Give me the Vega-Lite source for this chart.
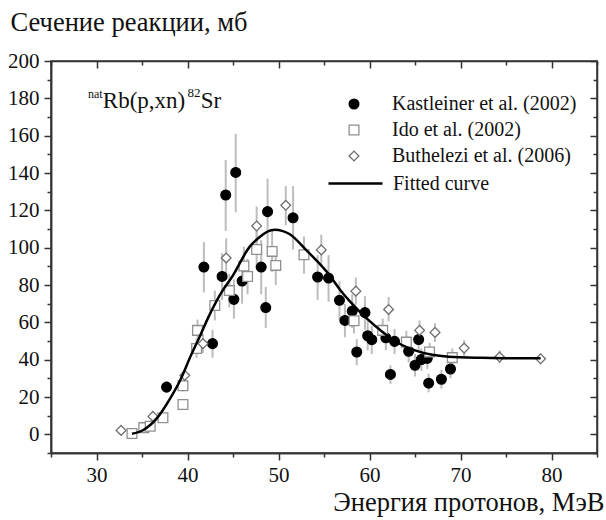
{
  "$schema": "https://vega.github.io/schema/vega-lite/v6.json",
  "width": 546,
  "height": 392,
  "autosize": "none",
  "padding": {"left": 51, "top": 61, "right": 9, "bottom": 67},
  "background": "white",
  "config": {
    "font": "Liberation Serif",
    "view": {"stroke": "#333333", "strokeWidth": 1.5},
    "text": {"font": "Liberation Serif"},
    "axis": {
      "grid": false,
      "domainColor": "#333333",
      "domainWidth": 1.5,
      "tickColor": "#333333",
      "tickWidth": 1.5,
      "labelFont": "Liberation Serif",
      "labelFontSize": 21,
      "labelColor": "#111111",
      "titleFont": "Liberation Serif",
      "titleFontWeight": "normal",
      "titleColor": "#111111"
    },
    "legend": {"labelFont": "Liberation Serif", "labelColor": "#111111", "labelLimit": 400}
  },
  "datasets": {
    "pts": [
      {"src": "Kastleiner et al. (2002)", "x": 37.7, "y": 25.3, "lo": 22.5, "hi": 28.5},
      {"src": "Kastleiner et al. (2002)", "x": 41.8, "y": 89.6, "lo": 76, "hi": 103},
      {"src": "Kastleiner et al. (2002)", "x": 42.75, "y": 48.6, "lo": 41, "hi": 56},
      {"src": "Kastleiner et al. (2002)", "x": 43.8, "y": 84.6, "lo": 72, "hi": 97},
      {"src": "Kastleiner et al. (2002)", "x": 44.2, "y": 128.2, "lo": 109, "hi": 147},
      {"src": "Kastleiner et al. (2002)", "x": 45.1, "y": 72.3, "lo": 62, "hi": 83},
      {"src": "Kastleiner et al. (2002)", "x": 45.3, "y": 140.3, "lo": 119, "hi": 161},
      {"src": "Kastleiner et al. (2002)", "x": 46.0, "y": 82.1, "lo": 70, "hi": 94},
      {"src": "Kastleiner et al. (2002)", "x": 48.1, "y": 89.6, "lo": 75, "hi": 104},
      {"src": "Kastleiner et al. (2002)", "x": 48.6, "y": 67.9, "lo": 57, "hi": 79},
      {"src": "Kastleiner et al. (2002)", "x": 48.8, "y": 119.3, "lo": 100, "hi": 137},
      {"src": "Kastleiner et al. (2002)", "x": 51.6, "y": 116, "lo": 99, "hi": 133},
      {"src": "Kastleiner et al. (2002)", "x": 54.3, "y": 84.3, "lo": 72, "hi": 96},
      {"src": "Kastleiner et al. (2002)", "x": 55.5, "y": 83.7, "lo": 71, "hi": 96},
      {"src": "Kastleiner et al. (2002)", "x": 56.7, "y": 71.8, "lo": 61, "hi": 82},
      {"src": "Kastleiner et al. (2002)", "x": 57.3, "y": 61, "lo": 52, "hi": 70},
      {"src": "Kastleiner et al. (2002)", "x": 58.1, "y": 66, "lo": 57, "hi": 75},
      {"src": "Kastleiner et al. (2002)", "x": 58.6, "y": 44.1, "lo": 37, "hi": 51},
      {"src": "Kastleiner et al. (2002)", "x": 59.5, "y": 65.2, "lo": 56, "hi": 74},
      {"src": "Kastleiner et al. (2002)", "x": 59.8, "y": 52.8, "lo": 45, "hi": 61},
      {"src": "Kastleiner et al. (2002)", "x": 60.25, "y": 50.7, "lo": 43, "hi": 58},
      {"src": "Kastleiner et al. (2002)", "x": 61.8, "y": 51.7, "lo": 45, "hi": 58.5},
      {"src": "Kastleiner et al. (2002)", "x": 62.3, "y": 32.1, "lo": 27, "hi": 37},
      {"src": "Kastleiner et al. (2002)", "x": 62.75, "y": 49.8, "lo": 43, "hi": 56.5},
      {"src": "Kastleiner et al. (2002)", "x": 64.3, "y": 44.5, "lo": 38.5, "hi": 50.5},
      {"src": "Kastleiner et al. (2002)", "x": 65.0, "y": 37, "lo": 31, "hi": 43},
      {"src": "Kastleiner et al. (2002)", "x": 65.4, "y": 50.8, "lo": 45, "hi": 57},
      {"src": "Kastleiner et al. (2002)", "x": 65.7, "y": 40.1, "lo": 34, "hi": 46},
      {"src": "Kastleiner et al. (2002)", "x": 66.35, "y": 40.7, "lo": 35, "hi": 46.5},
      {"src": "Kastleiner et al. (2002)", "x": 66.5, "y": 27.4, "lo": 22.5, "hi": 32.5},
      {"src": "Kastleiner et al. (2002)", "x": 67.9, "y": 29.5, "lo": 24.5, "hi": 34.5},
      {"src": "Kastleiner et al. (2002)", "x": 68.9, "y": 35, "lo": 30, "hi": 40},
      {"src": "Ido et al. (2002)", "x": 33.9, "y": 0.4, "lo": -0.5, "hi": 1.3},
      {"src": "Ido et al. (2002)", "x": 35.2, "y": 3.6, "lo": 2.6, "hi": 4.6},
      {"src": "Ido et al. (2002)", "x": 35.9, "y": 4.3, "lo": 3, "hi": 5.6},
      {"src": "Ido et al. (2002)", "x": 37.3, "y": 8.9, "lo": 7, "hi": 10.8},
      {"src": "Ido et al. (2002)", "x": 39.5, "y": 16, "lo": 14, "hi": 18},
      {"src": "Ido et al. (2002)", "x": 39.5, "y": 26, "lo": 23, "hi": 29},
      {"src": "Ido et al. (2002)", "x": 41.0, "y": 46, "lo": 41, "hi": 51},
      {"src": "Ido et al. (2002)", "x": 41.1, "y": 55.7, "lo": 50, "hi": 61.5},
      {"src": "Ido et al. (2002)", "x": 43.0, "y": 69, "lo": 61, "hi": 77},
      {"src": "Ido et al. (2002)", "x": 44.6, "y": 77, "lo": 68, "hi": 86},
      {"src": "Ido et al. (2002)", "x": 46.2, "y": 90.2, "lo": 80, "hi": 100.5},
      {"src": "Ido et al. (2002)", "x": 46.6, "y": 84.6, "lo": 75, "hi": 94},
      {"src": "Ido et al. (2002)", "x": 47.6, "y": 99, "lo": 88, "hi": 110},
      {"src": "Ido et al. (2002)", "x": 49.3, "y": 98, "lo": 87, "hi": 109},
      {"src": "Ido et al. (2002)", "x": 49.7, "y": 90.5, "lo": 80, "hi": 101},
      {"src": "Ido et al. (2002)", "x": 52.8, "y": 96.2, "lo": 86, "hi": 106},
      {"src": "Ido et al. (2002)", "x": 58.3, "y": 60.8, "lo": 54, "hi": 67.5},
      {"src": "Ido et al. (2002)", "x": 61.45, "y": 55.7, "lo": 49.5, "hi": 62},
      {"src": "Ido et al. (2002)", "x": 64.05, "y": 49.4, "lo": 43.5, "hi": 55.5},
      {"src": "Ido et al. (2002)", "x": 66.6, "y": 44.1, "lo": 39, "hi": 49},
      {"src": "Ido et al. (2002)", "x": 69.1, "y": 41.1, "lo": 36, "hi": 46},
      {"src": "Buthelezi et al. (2006)", "x": 32.7, "y": 2.1, "lo": 1.2, "hi": 3},
      {"src": "Buthelezi et al. (2006)", "x": 36.2, "y": 9.6, "lo": 8.3, "hi": 10.9},
      {"src": "Buthelezi et al. (2006)", "x": 39.7, "y": 31.6, "lo": 28.6, "hi": 34.6},
      {"src": "Buthelezi et al. (2006)", "x": 41.7, "y": 48.6, "lo": 43.6, "hi": 53.6},
      {"src": "Buthelezi et al. (2006)", "x": 44.25, "y": 94.5, "lo": 84, "hi": 105},
      {"src": "Buthelezi et al. (2006)", "x": 47.6, "y": 111.6, "lo": 101.5, "hi": 122},
      {"src": "Buthelezi et al. (2006)", "x": 50.8, "y": 122.7, "lo": 112, "hi": 133},
      {"src": "Buthelezi et al. (2006)", "x": 54.7, "y": 98.8, "lo": 90.5, "hi": 107},
      {"src": "Buthelezi et al. (2006)", "x": 58.5, "y": 76.7, "lo": 69.5, "hi": 84},
      {"src": "Buthelezi et al. (2006)", "x": 62.1, "y": 66.9, "lo": 60.5, "hi": 73.5},
      {"src": "Buthelezi et al. (2006)", "x": 65.5, "y": 55.7, "lo": 50.5, "hi": 61},
      {"src": "Buthelezi et al. (2006)", "x": 67.2, "y": 54.6, "lo": 49.5, "hi": 59.5},
      {"src": "Buthelezi et al. (2006)", "x": 70.4, "y": 46.2, "lo": 42, "hi": 50.5},
      {"src": "Buthelezi et al. (2006)", "x": 74.3, "y": 41.4, "lo": 38, "hi": 45},
      {"src": "Buthelezi et al. (2006)", "x": 78.8, "y": 40.5, "lo": 37.5, "hi": 43.5}
    ],
    "curve": [
      {"x": 33.9, "y": 0.3},
      {"x": 35.1, "y": 2.2},
      {"x": 36.6, "y": 8.4},
      {"x": 38.1, "y": 19.3},
      {"x": 39.2, "y": 29},
      {"x": 40.3, "y": 41.4},
      {"x": 41.4, "y": 53},
      {"x": 42.3, "y": 62.8},
      {"x": 43.6, "y": 75},
      {"x": 45.0, "y": 85.2},
      {"x": 46.8, "y": 100.3},
      {"x": 48.0, "y": 106},
      {"x": 48.7, "y": 108.4},
      {"x": 49.6, "y": 109.6},
      {"x": 50.4, "y": 109},
      {"x": 51.2, "y": 107.3},
      {"x": 53.0, "y": 99},
      {"x": 54.0, "y": 94},
      {"x": 55.4, "y": 86.5},
      {"x": 57.0, "y": 76},
      {"x": 57.8, "y": 71.5},
      {"x": 59.6, "y": 62.5},
      {"x": 61.4, "y": 55},
      {"x": 63.2, "y": 48.8},
      {"x": 65.0, "y": 45},
      {"x": 66.9, "y": 42.6},
      {"x": 68.7, "y": 41.6},
      {"x": 72.3, "y": 41.0},
      {"x": 75.5, "y": 40.8},
      {"x": 78.8, "y": 40.7}
    ],
    "one": [{}]
  },
  "resolve": {"axis": {"x": "independent", "y": "independent"}},
  "layer": [
    {
      "data": {"name": "pts"},
      "mark": {"type": "rule", "color": "#bdbdbd", "strokeWidth": 2},
      "encoding": {
        "x": {"field": "x", "type": "quantitative", "scale": {"domain": [25, 85], "nice": false, "zero": false},
          "axis": {"orient": "bottom", "values": [30, 40, 50, 60, 70, 80], "tickSize": 7, "labelPadding": 4,
            "labelFont": "Liberation Serif", "labelFontSize": 21, "labelColor": "#111111",
            "title": "Энергия протонов, МэВ", "titleFont": "Liberation Serif", "titleFontWeight": "normal", "titleColor": "#111111",
            "titleFontSize": 26.5, "titleAlign": "right", "titleAnchor": null,
            "titleX": 553, "titleY": 57, "titleBaseline": "alphabetic"}},
        "y": {"field": "lo", "type": "quantitative", "scale": {"domain": [-10, 200], "nice": false, "zero": false},
          "axis": {"orient": "left", "values": [0, 20, 40, 60, 80, 100, 120, 140, 160, 180, 200], "tickSize": 7, "labelPadding": 5,
            "labelFont": "Liberation Serif", "labelFontSize": 21, "labelColor": "#111111",
            "title": "Сечение реакции, мб", "titleFont": "Liberation Serif", "titleFontWeight": "normal", "titleColor": "#111111",
            "titleFontSize": 26.5, "titleAngle": 0, "titleAlign": "left", "titleAnchor": null,
            "titleX": -41, "titleY": -31, "titleBaseline": "alphabetic"}},
        "y2": {"field": "hi"}
      }
    },
    {
      "data": {"name": "pts"},
      "mark": {"type": "point", "filled": false, "opacity": 1, "strokeWidth": 1.3, "size": 95},
      "encoding": {
        "x": {"field": "x", "type": "quantitative", "scale": {"domain": [25, 85], "nice": false, "zero": false},
          "axis": {"orient": "bottom", "values": [25, 35, 45, 55, 65, 75, 85], "tickSize": 4, "labels": false, "title": null}},
        "y": {"field": "y", "type": "quantitative", "scale": {"domain": [-10, 200], "nice": false, "zero": false},
          "axis": {"orient": "left", "values": [-10, 10, 30, 50, 70, 90, 110, 130, 150, 170, 190], "tickSize": 4, "labels": false, "title": null}},
        "shape": {"field": "src", "type": "nominal",
          "scale": {"domain": ["Kastleiner et al. (2002)", "Ido et al. (2002)", "Buthelezi et al. (2006)"], "range": ["circle", "square", "diamond"]},
          "legend": {"title": null, "orient": "none", "legendX": 293, "legendY": 33, "labelFont": "Liberation Serif", "labelFontSize": 20, "labelLimit": 400, "symbolSize": 95, "symbolStrokeWidth": 1.3, "labelOffset": 28, "rowPadding": 6, "padding": 0}},
        "fill": {"field": "src", "type": "nominal",
          "scale": {"domain": ["Kastleiner et al. (2002)", "Ido et al. (2002)", "Buthelezi et al. (2006)"], "range": ["#000000", "#ffffff", "#ffffff"]},
          "legend": {"title": null, "orient": "none", "legendX": 293, "legendY": 33, "labelFont": "Liberation Serif", "labelFontSize": 20, "labelLimit": 400, "symbolSize": 95, "symbolStrokeWidth": 1.3, "labelOffset": 28, "rowPadding": 6, "padding": 0}},
        "stroke": {"field": "src", "type": "nominal",
          "scale": {"domain": ["Kastleiner et al. (2002)", "Ido et al. (2002)", "Buthelezi et al. (2006)"], "range": ["#000000", "#909090", "#6e6e6e"]},
          "legend": {"title": null, "orient": "none", "legendX": 293, "legendY": 33, "labelFont": "Liberation Serif", "labelFontSize": 20, "labelLimit": 400, "symbolSize": 95, "symbolStrokeWidth": 1.3, "labelOffset": 28, "rowPadding": 6, "padding": 0}}
      }
    },
    {
      "data": {"name": "curve"},
      "mark": {"type": "line", "interpolate": "monotone", "strokeWidth": 2.5},
      "encoding": {
        "x": {"field": "x", "type": "quantitative", "scale": {"domain": [25, 85], "nice": false, "zero": false},
          "axis": {"orient": "top", "values": [30, 40, 50, 60, 70, 80], "tickSize": -7, "labels": false, "title": null}},
        "y": {"field": "y", "type": "quantitative", "scale": {"domain": [-10, 200], "nice": false, "zero": false},
          "axis": {"orient": "right", "values": [0, 20, 40, 60, 80, 100, 120, 140, 160, 180, 200], "tickSize": -7, "labels": false, "title": null}},
        "color": {"datum": "Fitted curve", "type": "nominal", "scale": {"domain": ["Fitted curve"], "range": ["#000000"]},
          "legend": {"title": null, "orient": "none", "legendX": 276, "legendY": 94, "labelFont": "Liberation Serif", "labelFontSize": 20, "labelLimit": 400, "symbolType": "stroke", "symbolSize": 2916, "symbolStrokeWidth": 2.5, "labelOffset": 9, "padding": 0}}
      }
    },
    {
      "data": {"name": "one"},
      "mark": {"type": "text", "font": "Liberation Serif", "fontSize": 12, "align": "left", "baseline": "alphabetic", "color": "#111111"},
      "encoding": {
        "x": {"datum": 29.07, "type": "quantitative", "scale": {"domain": [25, 85], "nice": false, "zero": false},
          "axis": {"orient": "top", "values": [25, 35, 45, 55, 65, 75, 85], "tickSize": -4, "labels": false, "title": null, "domain": false}},
        "y": {"datum": 180, "type": "quantitative", "scale": {"domain": [-10, 200], "nice": false, "zero": false},
          "axis": {"orient": "right", "values": [-10, 10, 30, 50, 70, 90, 110, 130, 150, 170, 190], "tickSize": -4, "labels": false, "title": null, "domain": false}},
        "text": {"value": "nat"}
      }
    },
    {
      "data": {"name": "one"},
      "mark": {"type": "text", "font": "Liberation Serif", "fontSize": 23, "align": "left", "baseline": "alphabetic", "color": "#111111"},
      "encoding": {
        "x": {"datum": 30.7, "type": "quantitative", "axis": null},
        "y": {"datum": 174.8, "type": "quantitative", "axis": null},
        "text": {"value": "Rb(p,xn)"}
      }
    },
    {
      "data": {"name": "one"},
      "mark": {"type": "text", "font": "Liberation Serif", "fontSize": 13, "align": "left", "baseline": "alphabetic", "color": "#111111"},
      "encoding": {
        "x": {"datum": 40.0, "type": "quantitative", "axis": null},
        "y": {"datum": 180.5, "type": "quantitative", "axis": null},
        "text": {"value": "82"}
      }
    },
    {
      "data": {"name": "one"},
      "mark": {"type": "text", "font": "Liberation Serif", "fontSize": 23, "align": "left", "baseline": "alphabetic", "color": "#111111"},
      "encoding": {
        "x": {"datum": 41.45, "type": "quantitative", "axis": null},
        "y": {"datum": 174.8, "type": "quantitative", "axis": null},
        "text": {"value": "Sr"}
      }
    }
  ]
}
